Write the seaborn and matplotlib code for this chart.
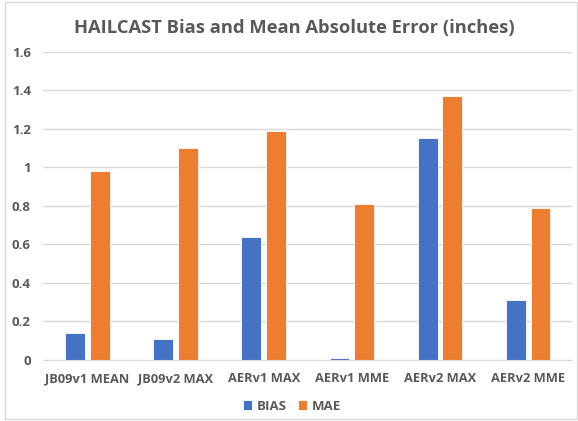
import pandas as pd
import matplotlib.pyplot as plt
import seaborn as sns
from matplotlib.patches import Rectangle

# Chart values
categories = ['JB09v1 MEAN', 'JB09v2 MAX', 'AERv1 MAX', 'AERv1 MME', 'AERv2 MAX', 'AERv2 MME']
bias = [0.14, 0.11, 0.64, 0.01, 1.15, 0.31]
mae = [0.98, 1.10, 1.19, 0.81, 1.37, 0.79]
y_ticks = [0, 0.2, 0.4, 0.6, 0.8, 1, 1.2, 1.4, 1.6]
y_tick_labels = ['0', '0.2', '0.4', '0.6', '0.8', '1', '1.2', '1.4', '1.6']

df = pd.DataFrame({
    'category': categories * 2,
    'value': bias + mae,
    'series': ['BIAS'] * len(bias) + ['MAE'] * len(mae),
})

sns.set_style('white')
plt.rcParams['font.family'] = ['Open Sans', 'DejaVu Sans']
plt.rcParams['font.weight'] = 'bold'
text_color = '#595959'

fig = plt.figure(figsize=(5.78, 4.21), dpi=100)
ax = fig.add_axes([0.075, 0.145, 0.915, 0.732])

sns.barplot(data=df, x='category', y='value', hue='series',
            palette=['#4472C4', '#ED7D31'], saturation=1, width=0.56, gap=0.2,
            edgecolor='white', linewidth=0.6, ax=ax)

ax.set_ylim(0, 1.6)
ax.set_yticks(y_ticks)
ax.set_yticklabels(y_tick_labels, fontweight='bold')
ax.set_xticks(range(len(categories)))
ax.set_xticklabels(categories, fontweight='bold')
ax.set_xlim(-0.5, len(categories) - 0.5)
ax.grid(axis='y', color='#d9d9d9', linewidth=1)
ax.set_axisbelow(True)
for side in ['top', 'right', 'left']:
    ax.spines[side].set_visible(False)
ax.spines['bottom'].set_color('#d9d9d9')
ax.set_xlabel('')
ax.set_ylabel('')
ax.tick_params(axis='both', length=0, labelcolor=text_color)
ax.tick_params(axis='y', pad=9, labelsize=9.5)
ax.tick_params(axis='x', pad=9, labelsize=9.3)

leg = ax.legend(loc='upper center', bbox_to_anchor=(0.47, -0.09), ncol=2, frameon=False,
                handlelength=0.7, handleheight=0.7, handletextpad=0.3, columnspacing=0.9,
                prop={'weight': 'bold', 'size': 9.5})
for t in leg.get_texts():
    t.set_color(text_color)

fig.text(0.51, 0.933, 'HAILCAST Bias and Mean Absolute Error (inches)', ha='center', va='center',
         fontsize=13.2, fontweight='bold', color=text_color)

# light chart-area border
fig.patches.append(Rectangle((0.009, 0.005), 0.99, 0.99, transform=fig.transFigure,
                             fill=False, edgecolor='#d9d9d9', linewidth=1))

fig.savefig('out.png', dpi=100)
